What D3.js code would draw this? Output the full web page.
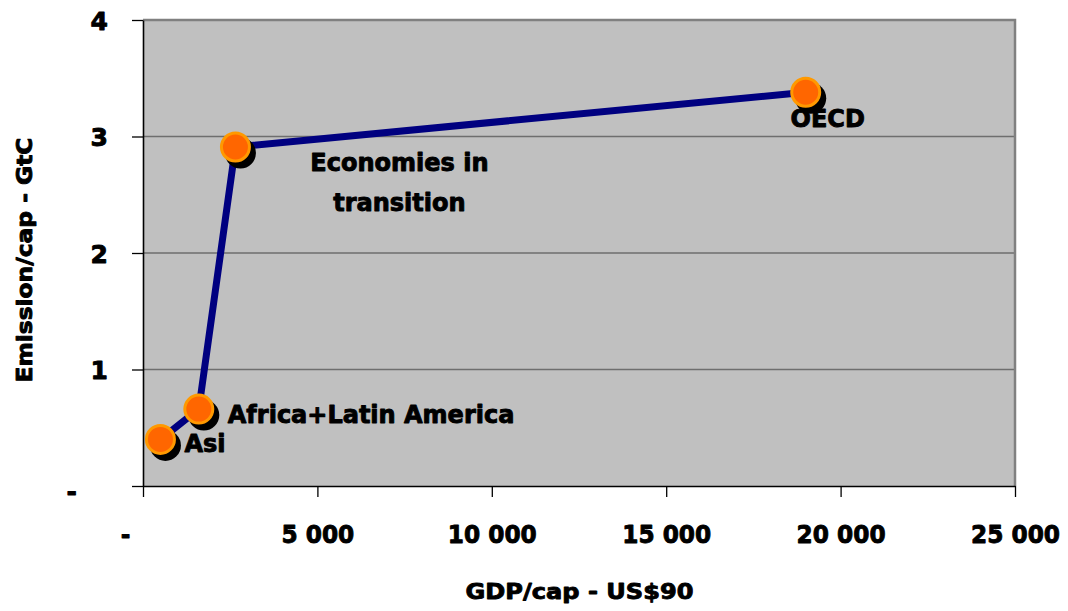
<!DOCTYPE html>
<html>
<head>
<meta charset="utf-8">
<script src="https://cdn.jsdelivr.net/npm/d3@7/dist/d3.min.js"></script>
<style>
  html, body { margin: 0; padding: 0; background: #ffffff; }
  svg { display: block; }
  text { font-family: "DejaVu Sans", "Liberation Sans", sans-serif; font-weight: bold; fill: #000;
         stroke: #000; stroke-width: 0.9px; stroke-linejoin: round; }
</style>
</head>
<body>
<svg id="chart" width="1068" height="611"></svg>
<script>
// Emissions per capita against GDP per capita, by world region
const regions = ["Asi", "Africa+Latin America", "Economies in transition", "OECD"];
const gdpPerCap = [500, 1600, 2650, 19000];
const emissionPerCap = [0.40, 0.66, 2.91, 3.38];

const xTicks = [0, 5000, 10000, 15000, 20000, 25000];
const xTickLabels = ["-", "5 000", "10 000", "15 000", "20 000", "25 000"];
const yTicks = [0, 1, 2, 3, 4];
const yTickLabels = ["-", "1", "2", "3", "4"];

const xTitle = "GDP/cap - US$90";
const yTitle = "Emission/cap - GtC";

const plot = { left: 143, right: 1015, top: 20, bottom: 486 };

const svg = d3.select("#chart");

const x = d3.scaleLinear().domain([0, 25000]).range([plot.left, plot.right]);
const y = d3.scaleLinear().domain([0, 4]).range([plot.bottom, plot.top]);

// Plot area background
svg.append("rect")
  .attr("x", plot.left).attr("y", plot.top)
  .attr("width", plot.right - plot.left).attr("height", plot.bottom - plot.top)
  .attr("fill", "#c0c0c0");

// Horizontal gridlines
svg.append("g")
  .selectAll("line")
  .data(yTicks.filter(v => v > 0 && v < 4))
  .join("line")
  .attr("x1", plot.left).attr("x2", plot.right)
  .attr("y1", d => y(d)).attr("y2", d => y(d))
  .attr("stroke", "#6e6e6e").attr("stroke-width", 1.5);

// Plot area frame (top and right)
svg.append("path")
  .attr("d", `M${plot.left},${plot.top}H${plot.right}V${plot.bottom}`)
  .attr("fill", "none").attr("stroke", "#808080").attr("stroke-width", 2.5);

// Axes
const xAxis = d3.axisBottom(x)
  .tickValues(xTicks)
  .tickSize(11)
  .tickSizeOuter(0)
  .tickFormat((d, i) => xTickLabels[i]);

const yAxis = d3.axisLeft(y)
  .tickValues(yTicks)
  .tickSize(11)
  .tickSizeOuter(0)
  .tickFormat((d, i) => yTickLabels[i]);

const gx = svg.append("g")
  .attr("transform", `translate(0,${plot.bottom})`)
  .call(xAxis);
const gy = svg.append("g")
  .attr("transform", `translate(${plot.left},0)`)
  .call(yAxis);

[gx, gy].forEach(g => {
  g.select(".domain").attr("stroke", "#000").attr("stroke-width", 1.6);
  g.selectAll(".tick line").attr("stroke", "#000").attr("stroke-width", 1.3);
  g.selectAll(".tick text")
    .attr("font-family", "DejaVu Sans, sans-serif")
    .attr("font-weight", "bold")
    .attr("fill", "#000");
});

gx.selectAll(".tick text")
  .attr("font-size", 25)
  .attr("dy", null)
  .attr("y", 57)
  .attr("dx", d => d === 0 ? -18 : 0)
  .each(function () {
    // slightly condensed numerals
    const w = this.getComputedTextLength();
    d3.select(this).attr("textLength", w * 0.93).attr("lengthAdjust", "spacingAndGlyphs");
  });

gy.selectAll(".tick text")
  .attr("font-size", 25)
  .attr("dy", "0.36em")
  .attr("x", -35)
  .attr("dx", d => d === 0 ? -31 : 0)
  .attr("y", d => d === 0 ? 4 : 0);

// Axis titles
svg.append("text")
  .attr("x", (plot.left + plot.right) / 2 + 0.5).attr("y", 599)
  .attr("text-anchor", "middle")
  .attr("font-size", 22)
  .attr("textLength", 228).attr("lengthAdjust", "spacingAndGlyphs")
  .text(xTitle);

svg.append("text")
  .attr("transform", "translate(32,260) rotate(-90)")
  .attr("text-anchor", "middle")
  .attr("font-size", 22)
  .attr("textLength", 245).attr("lengthAdjust", "spacingAndGlyphs")
  .text(yTitle);

const points = regions.map((name, i) => ({ name, gdp: gdpPerCap[i], em: emissionPerCap[i] }));

// Region labels (drawn beneath the markers)
const labelPlacement = {
  "Asi": { dx: 24, dy: 13, anchor: "start", lines: ["Asi"] },
  "Africa+Latin America": { dx: 29, dy: 14, anchor: "start", lines: ["Africa+Latin America"] },
  "Economies in transition": { dx: 164, dy: 24, anchor: "middle", lines: ["Economies in", "transition"] },
  "OECD": { dx: 22, dy: 35, anchor: "middle", lines: ["OECD"] }
};

const labels = svg.append("g");
points.forEach(p => {
  const pl = labelPlacement[p.name];
  const t = labels.append("text")
    .attr("font-size", 24)
    .attr("text-anchor", pl.anchor);
  pl.lines.forEach((line, k) => {
    t.append("tspan")
      .attr("x", x(p.gdp) + pl.dx)
      .attr("y", y(p.em) + pl.dy + k * 40)
      .text(line);
  });
});

// Connecting line
const line = d3.line().x(d => x(d.gdp)).y(d => y(d.em));
svg.append("path")
  .datum(points)
  .attr("d", line)
  .attr("fill", "none")
  .attr("stroke", "#000080")
  .attr("stroke-width", 7)
  .attr("stroke-linejoin", "round");

// Markers with drop shadow
const markers = svg.append("g");
markers.selectAll("circle.shadow")
  .data(points)
  .join("circle")
  .attr("class", "shadow")
  .attr("cx", d => x(d.gdp) + 5)
  .attr("cy", d => y(d.em) + 6)
  .attr("r", 15.5)
  .attr("fill", "#000");

markers.selectAll("circle.dot")
  .data(points)
  .join("circle")
  .attr("class", "dot")
  .attr("cx", d => x(d.gdp))
  .attr("cy", d => y(d.em))
  .attr("r", 14)
  .attr("fill", "#ff6600")
  .attr("stroke", "#ff9900")
  .attr("stroke-width", 3);
</script>
</body>
</html>
